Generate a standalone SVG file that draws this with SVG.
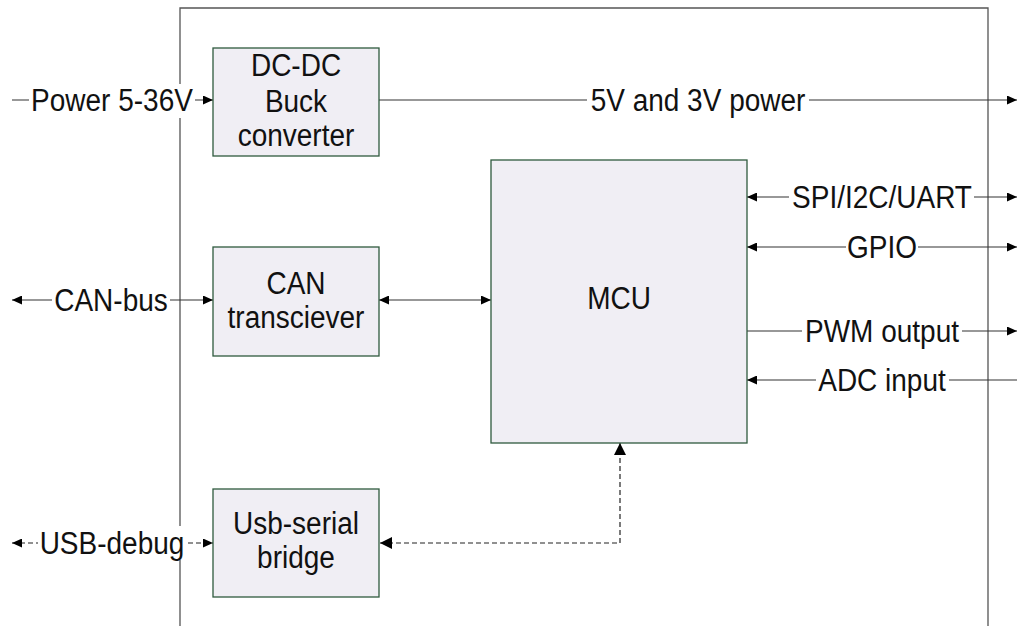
<svg xmlns="http://www.w3.org/2000/svg" width="1017" height="626" viewBox="0 0 1017 626">
<style>
.box{fill:#f0eef4;stroke:#2f5a3e;stroke-width:1.3}
.frame{fill:none;stroke:#555;stroke-width:1.3}
.ln{fill:none;stroke:#333;stroke-width:1.2}
.dash{stroke:#222;stroke-dasharray:5,3}
.t{font-family:"Liberation Sans",Arial,sans-serif;font-size:28px;fill:#111;text-anchor:middle}
.bg{fill:#fff}
</style>
<defs>
<marker id="a" viewBox="0 0 10 9" refX="10" refY="4.5" markerWidth="10" markerHeight="9" markerUnits="userSpaceOnUse" orient="auto-start-reverse"><path d="M0,0 L10,4.5 L0,9 z" fill="#000"/></marker>
<marker id="b" viewBox="0 0 12 12" refX="12" refY="6" markerWidth="12" markerHeight="12" markerUnits="userSpaceOnUse" orient="auto-start-reverse"><path d="M0,0 L12,6 L0,12 z" fill="#000"/></marker>
</defs>
<rect width="1017" height="626" fill="#fff"/>
<g id="frame"><path class="frame" d="M180,626 V8 H988 V626"/></g>
<g id="connectors">
<path class="ln" d="M12,100 H213" marker-end="url(#a)"/>
<path class="ln" d="M379,100 H1017" marker-end="url(#a)"/>
<path class="ln" d="M12,300 H213" marker-start="url(#a)" marker-end="url(#a)"/>
<path class="ln" d="M379,300 H491" marker-start="url(#a)" marker-end="url(#a)"/>
<path class="ln dash" d="M12,543 H213" marker-start="url(#a)" marker-end="url(#a)"/>
<path class="ln dash" d="M380,543 H620 V443" marker-start="url(#b)" marker-end="url(#b)"/>
<path class="ln" d="M747,197 H1017" marker-start="url(#a)" marker-end="url(#a)"/>
<path class="ln" d="M747,247 H1017" marker-start="url(#a)" marker-end="url(#a)"/>
<path class="ln" d="M747,331 H1017" marker-end="url(#a)"/>
<path class="ln" d="M1017,380 H747" marker-end="url(#a)"/>
<g id="labels">
<rect class="bg" x="29" y="84" width="166" height="34"/><text class="t" transform="translate(112,110.5) scale(1,1.1)">Power 5-36V</text>
<rect class="bg" x="587" y="84" width="222" height="34"/><text class="t" transform="translate(698,110.5) scale(1,1.1)">5V and 3V power</text>
<rect class="bg" x="52" y="284" width="118" height="34"/><text class="t" transform="translate(111,310.5) scale(1,1.1)">CAN-bus</text>
<rect class="bg" x="38" y="526" width="148" height="34"/><text class="t" transform="translate(112,553.5) scale(1,1.1)">USB-debug</text>
<rect class="bg" x="789" y="181" width="185" height="34"/><text class="t" transform="translate(882,207.5) scale(1,1.1)">SPI/I2C/UART</text>
<rect class="bg" x="846" y="231" width="72" height="34"/><text class="t" transform="translate(882,257.5) scale(1,1.1)">GPIO</text>
<rect class="bg" x="802" y="315" width="160" height="34"/><text class="t" transform="translate(882,341.5) scale(1,1.1)">PWM output</text>
<rect class="bg" x="816" y="364" width="133" height="34"/><text class="t" transform="translate(882,390.5) scale(1,1.1)">ADC input</text>
</g>
</g>
<g id="dcdc"><rect class="box" x="213" y="48" width="166" height="108"/>
<text class="t" transform="translate(296,76) scale(1,1.1)">DC-DC</text><text class="t" transform="translate(296,111.5) scale(1,1.1)">Buck</text><text class="t" transform="translate(296,146) scale(1,1.1)">converter</text></g>
<g id="can"><rect class="box" x="213" y="247" width="166" height="109"/>
<text class="t" transform="translate(296,294) scale(1,1.1)">CAN</text><text class="t" transform="translate(296,328) scale(1,1.1)">transciever</text></g>
<g id="usb"><rect class="box" x="213" y="489" width="166" height="108"/>
<text class="t" transform="translate(296,534) scale(1,1.1)">Usb-serial</text><text class="t" transform="translate(296,568) scale(1,1.1)">bridge</text></g>
<g id="mcu"><rect class="box" x="491" y="160" width="256" height="283"/>
<text class="t" transform="translate(619,309) scale(1,1.1)">MCU</text></g>
</svg>
